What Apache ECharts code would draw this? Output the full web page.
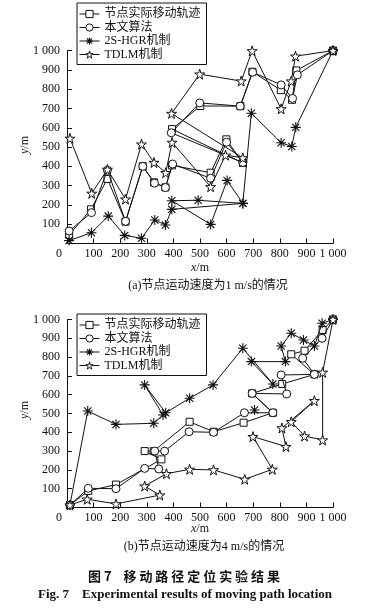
<!DOCTYPE html>
<html>
<head>
<meta charset="utf-8">
<script src="https://cdn.jsdelivr.net/npm/echarts@6/dist/echarts.min.js"></script>
<style>
html,body{margin:0;padding:0;background:#fff;}
#c{width:374px;height:610px;}
</style>
</head>
<body>
<div id="c"></div>
<script>
// ---------- data (x/m, y/m) ----------
const seriesNames = ['节点实际移动轨迹', '本文算法', '2S-HGR机制', 'TDLM机制'];
const xTicks = [0, 100, 200, 300, 400, 500, 600, 700, 800, 900, 1000];
const yTicks = [100, 200, 300, 400, 500, 600, 700, 800, 900, 1000];

// (a) node speed 1 m/s
const aActual = [[8,45],[90,177],[152,335],[220,113],[285,401],[327,317],[370,291],[395,405],[540,367],[599,540],[661,417],[395,593],[501,713],[652,712],[697,890],[804,795],[846,745],[862,897],[1000,1000]];
const aOurs   = [[8,65],[92,160],[152,380],[220,115],[285,400],[329,313],[370,290],[397,412],[540,338],[600,525],[661,420],[392,574],[499,729],[651,712],[698,888],[805,822],[848,752],[866,874],[1000,1000]];
const aHGR    = [[8,15],[92,56],[155,142],[217,42],[280,27],[330,122],[370,96],[394,177],[661,208],[602,327],[540,99],[394,222],[493,224],[661,208],[693,675],[805,522],[845,503],[860,602],[1000,1000]];
const aTDLM   = [[11,545],[93,260],[152,384],[220,230],[280,515],[327,420],[371,367],[395,524],[540,294],[596,458],[661,444],[393,674],[499,878],[655,842],[696,999],[805,698],[843,842],[859,971],[1000,1000]];

// (b) node speed 4 m/s
const bActual = [[11,13],[80,88],[184,122],[355,256],[292,300],[326,300],[461,456],[551,403],[664,451],[774,504],[696,607],[809,657],[930,708],[843,815],[893,834],[961,944],[1000,1000]];
const bOurs   = [[11,13],[80,102],[184,100],[292,208],[345,205],[330,300],[367,300],[459,403],[551,400],[667,504],[774,504],[696,607],[826,604],[805,705],[930,708],[886,794],[959,900],[1000,1000]];
const bHGR    = [[11,13],[78,513],[184,442],[326,448],[361,492],[292,652],[371,504],[461,581],[549,652],[661,847],[774,657],[693,776],[821,776],[805,859],[843,927],[889,891],[930,859],[959,980],[1000,1000],null,[705,519]];
const bTDLM   = [[11,13],[76,44],[184,19],[349,66],[292,114],[374,180],[461,203],[551,200],[668,150],[772,203],[699,377],[823,324],[808,423],[930,568],[843,456],[893,380],[961,359],[961,719],[1000,1000]];

// ---------- styles ----------
const FONT = "'Liberation Serif', 'Noto Sans CJK SC', serif";
const INK = '#111';
const STAR = 'path://M50,0 L61,35 L98,35 L68,57 L79,91 L50,70 L21,91 L32,57 L2,35 L39,35 Z';
const ASTER = 'path://M5,0L5,10M0,5L10,5M1.4,1.4L8.6,8.6M1.4,8.6L8.6,1.4';
const markers = [
  {symbol:'rect', size:7, item:{color:'#fff', borderColor:INK, borderWidth:1}},
  {symbol:'circle', size:8, item:{color:'#fff', borderColor:INK, borderWidth:1}},
  {symbol:ASTER, size:10, item:{color:'#fff', borderColor:INK, borderWidth:1.1}},
  {symbol:STAR, size:10, item:{color:'#fff', borderColor:INK, borderWidth:1}}
];

function mkSeries(data, k, gi) {
  const m = markers[k];
  return {
    type:'line', name:seriesNames[k], data:data,
    xAxisIndex:gi, yAxisIndex:gi,
    symbol:m.symbol, symbolSize:m.size, showAllSymbol:true,
    connectNulls:false,
    itemStyle:m.item,
    lineStyle:{color:INK, width:1},
    emphasis:{disabled:true},
    z: 2 + k
  };
}

const fmt = v => v === 1000 ? '1 000' : String(v);

function xAxis(gi) {
  return {
    type:'value', gridIndex:gi, min:0, max:1000, interval:100,
    axisLine:{show:true, lineStyle:{color:INK, width:1}},
    axisTick:{show:true, inside:true, length:5, lineStyle:{color:INK}},
    splitLine:{show:false},
    axisLabel:{
      margin:4, color:INK, fontFamily:FONT, fontSize:12,
      formatter: v => v === 0 ? '{z|0}' : fmt(v),
      rich:{z:{padding:[0,16,0,0], fontFamily:FONT, fontSize:12, color:INK}}
    }
  };
}
function yAxis(gi) {
  return {
    type:'value', gridIndex:gi, min:0, max:1000, interval:100,
    axisLine:{show:true, lineStyle:{color:INK, width:1}},
    axisTick:{show:true, inside:true, length:5, lineStyle:{color:INK}},
    splitLine:{show:false},
    axisLabel:{margin:7, color:INK, fontFamily:FONT, fontSize:12,
      formatter: v => v === 0 ? '' : fmt(v)}
  };
}
function legend(top) {
  return {
    show:true, orient:'vertical', left:77, top:top,
    data:seriesNames.map((n, k) => ({
      name:n,
      itemStyle:{color:'#fff', borderColor:INK, borderWidth:markers[k].item.borderWidth},
      lineStyle:{color:INK, width:1}
    })),
    selectedMode:false,
    borderColor:INK, borderWidth:1, borderRadius:0,
    padding:[5,6,4,2], itemGap:1.5, itemWidth:20, itemHeight:9,
    textStyle:{fontFamily:FONT, fontSize:12, color:INK, lineHeight:12}
  };
}
function txt(x, y, text, opts) {
  return Object.assign({type:'text', x:x, y:y, silent:true,
    style:Object.assign({text:text, fontFamily:FONT, fontSize:12, fill:INK,
      align:'center', verticalAlign:'middle'}, opts && opts.style)}, opts && opts.el);
}
const italicRich = {i:{fontStyle:'italic', fontFamily:FONT, fontSize:12, fill:INK}};

const chart = echarts.init(document.getElementById('c'), null, {renderer:'canvas'});
chart.setOption({
  animation:false,
  backgroundColor:'#fff',
  grid:[
    {left:67, top:50.6, width:266, height:192.9, containLabel:false, outerBoundsMode:'none'},
    {left:67, top:319.5, width:266, height:188, containLabel:false, outerBoundsMode:'none'}
  ],
  xAxis:[xAxis(0), xAxis(1)],
  yAxis:[yAxis(0), yAxis(1)],
  legend:[legend(3), legend(314)],
  series:[
    mkSeries(aActual,0,0), mkSeries(aOurs,1,0), mkSeries(aHGR,2,0), mkSeries(aTDLM,3,0),
    mkSeries(bActual,0,1), mkSeries(bOurs,1,1), mkSeries(bHGR,2,1), mkSeries(bTDLM,3,1)
  ],
  graphic:[
    txt(25,145,'{i|y}/m',{style:{rich:italicRich}, el:{rotation:Math.PI/2}}),
    txt(200,268,'{i|x}/m',{style:{rich:italicRich}}),
    txt(208,286,'(a)节点运动速度为1 m/s的情况'),
    txt(25,410,'{i|y}/m',{style:{rich:italicRich}, el:{rotation:Math.PI/2}}),
    txt(200,529,'{i|x}/m',{style:{rich:italicRich}}),
    txt(204,547,'(b)节点运动速度为4 m/s的情况'),
    txt(184,576,'图 7    移 动 路 径 定 位 实 验 结 果',{style:{fontSize:13, fontWeight:'bold', fontFamily:"'Noto Sans CJK SC', sans-serif"}}),
    txt(185,595,'Fig. 7    Experimental results of moving path location',{style:{fontSize:13, fontWeight:'bold'}})
  ]
});
</script>
</body>
</html>
